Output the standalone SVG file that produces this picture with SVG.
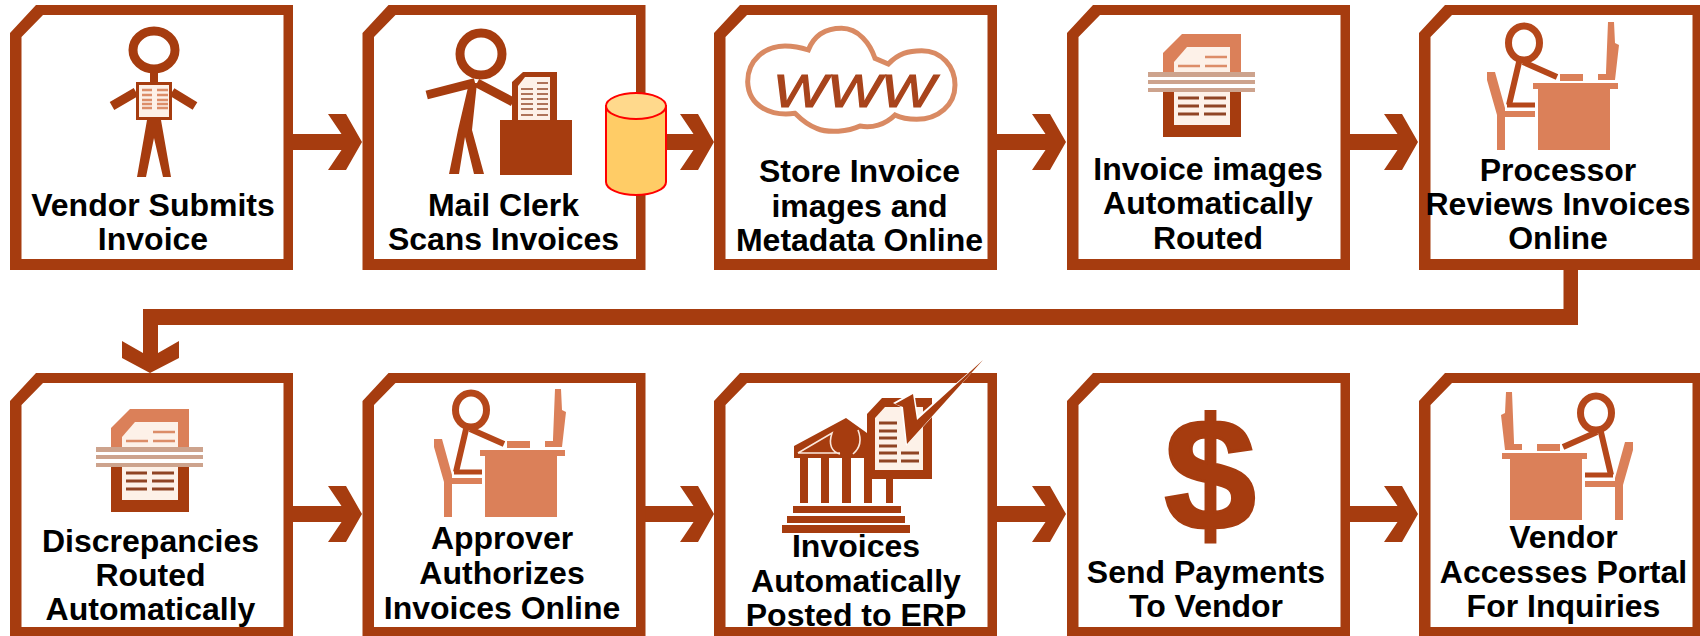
<svg xmlns="http://www.w3.org/2000/svg" xmlns:xlink="http://www.w3.org/1999/xlink" width="1700" height="636" viewBox="0 0 1700 636">
<style>
.d{fill:#a63c0f}
.l{fill:#db8059}
.c{fill:#fdf1e8}
.sd{stroke:#a63c0f;fill:none}
.sl{stroke:#db8059;fill:none}
.frame{fill:#a63c0f;fill-rule:evenodd}
text.t{font-family:"Liberation Sans",Arial,sans-serif;font-weight:700;font-size:32px;fill:#000;text-anchor:middle}
.rd{stroke:#8f4424;stroke-width:3;fill:none}
.rl{stroke:#dc8d68;stroke-width:2.5;fill:none}
.rs{stroke:#94492a;stroke-width:1.6;fill:none}
</style>
<defs>
<path id="frame" class="frame" d="M0 28L26 0H283V265H0ZM11.500 32V254H273.500V10H33Z"/>
<path id="arrow" class="d" d="M0 -8H48.500L35 -28H53L69 0L53 28H35L48.500 8H0Z"/>
<g id="desk">
<ellipse cx="1524" cy="43" rx="15.500" ry="17" fill="none" stroke="#b5471a" stroke-width="7"/>
<path d="M1520 58L1509 105M1523 62L1557 77" fill="none" stroke="#b5471a" stroke-width="6"/>
<path d="M1507 105H1535" fill="none" stroke="#b5471a" stroke-width="5"/>
<path class="l" d="M1487 72H1495L1505 108V111H1535V117H1505V150H1497V115L1487 80ZM1533 83H1618V89H1610V150H1538V89H1533ZM1560 74H1583V81H1560ZM1598 74H1606V72L1608 22H1614L1615 43L1619 45L1615 80H1598Z"/>
</g>
<g id="scan">
<path class="l" d="M1163 53L1182 34H1241V72H1163Z"/>
<path class="c" d="M1174 62L1187 47H1230V72H1174Z"/>
<path class="rl" d="M1205 57H1227M1205 66H1227M1178 66H1200"/>
<path fill="#cda38d" d="M1148 72H1255V77H1148ZM1148 80H1255V84H1148ZM1148 88H1255V92H1148Z"/>
<path class="d" d="M1163 92H1241V137H1163Z"/>
<path class="c" d="M1174 92H1230V125H1174Z"/>
<path class="rd" d="M1178 98H1199M1204 98H1226M1178 106H1199M1204 106H1226M1178 114H1199M1204 114H1226"/>
</g>
</defs>

<g id="connectors">
<use xlink:href="#arrow" href="#arrow" x="293" y="142"/>
<use xlink:href="#arrow" href="#arrow" x="645" y="142"/>
<use xlink:href="#arrow" href="#arrow" x="997" y="142"/>
<use xlink:href="#arrow" href="#arrow" x="1349" y="142"/>
<use xlink:href="#arrow" href="#arrow" x="293" y="514"/>
<use xlink:href="#arrow" href="#arrow" x="645" y="514"/>
<use xlink:href="#arrow" href="#arrow" x="997" y="514"/>
<use xlink:href="#arrow" href="#arrow" x="1349" y="514"/>
<path class="d" d="M1563.500 268H1578V325H158V353L179 341V358L150 373L122 358V341L143 353V309H1563.500Z"/>
</g>

<g id="n1">
<use xlink:href="#frame" href="#frame" x="10" y="5"/>
<ellipse cx="154" cy="50" rx="21" ry="19" class="sd" stroke-width="9"/>
<path class="d" d="M150 72H158V82H150Z"/>
<path class="sd" stroke-width="9" d="M136 92L112 106M172 92L195 106"/>
<path class="d" d="M147 120H161L171 177H163L154 138L146 177H137Z"/>
<path class="d" d="M136 82H172V120H136Z"/>
<path class="c" d="M139 85H169V117H139Z"/>
<path class="rl" d="M142 90H152M157 90H168M142 95H152M157 95H168M142 100H152M157 100H168M142 104H152M157 104H168M142 108H152M157 108H168"/>
<text class="t" x="153" y="216">Vendor Submits</text>
<text class="t" x="153" y="250">Invoice</text>
</g>

<g id="n2">
<use xlink:href="#frame" href="#frame" x="362.500" y="5"/>
<circle cx="481" cy="54" r="21" class="sd" stroke-width="9"/>
<path class="sd" stroke-width="9" d="M426.700 95L475 82.700M477 83L513 102"/>
<path class="d" d="M469 83H477L472 130L484 174H474L465 137L459 174H449L458 130Z"/>
<path class="d" d="M500 120H572V175H500ZM512 82L523 72H557V120H512Z"/>
<path class="c" d="M518 86L525 77H550V120H518Z"/>
<path class="rs" d="M537 83H548M521 89H533M537 89H548M521 94H533M537 94H548M521 99H533M537 99H548M521 104H533M537 104H548M521 109H533M537 109H548M521 115H533M537 115H548"/>
<text class="t" x="503.500" y="216">Mail Clerk</text>
<text class="t" x="503.500" y="250">Scans Invoices</text>
</g>

<g id="n3">
<use xlink:href="#frame" href="#frame" x="714" y="5"/>
<g transform="translate(735 20) scale(.33333)">
<path d="M220 90C240 40 280 25 320 25C370 25 405 70 420 115L460 132C490 100 520 92 560 92C620 92 660 140 660 195C660 255 610 298 545 298C520 298 500 295 480 285C450 315 410 325 375 318C340 335 280 340 245 325C215 315 195 295 180 280C110 290 40 260 38 185C38 120 90 78 150 78C180 78 205 85 220 90Z" fill="#fff" stroke="#d98a63" stroke-width="15"/>
</g>
<text x="773" y="107" font-family="'Liberation Sans',Arial,sans-serif" font-style="italic" font-size="47" fill="#a8441c" stroke="#a8441c" stroke-width="1.200" textLength="162" lengthAdjust="spacingAndGlyphs">WWW</text>
<text class="t" x="859.500" y="182">Store Invoice</text>
<text class="t" x="859.500" y="217">images and</text>
<text class="t" x="859.500" y="251">Metadata Online</text>
</g>

<g id="n4">
<use xlink:href="#frame" href="#frame" x="1067" y="5"/>
<use xlink:href="#scan" href="#scan"/>
<text class="t" x="1208" y="180">Invoice images</text>
<text class="t" x="1208" y="214">Automatically</text>
<text class="t" x="1208" y="249">Routed</text>
</g>

<g id="n5">
<use xlink:href="#frame" href="#frame" x="1419" y="5"/>
<use xlink:href="#desk" href="#desk"/>
<text class="t" x="1558" y="181">Processor</text>
<text class="t" x="1558" y="215">Reviews Invoices</text>
<text class="t" x="1558" y="249">Online</text>
</g>

<g id="n6">
<use xlink:href="#frame" href="#frame" x="10" y="373"/>
<use xlink:href="#scan" href="#scan" transform="translate(-1052 375)"/>
<text class="t" x="150.500" y="552">Discrepancies</text>
<text class="t" x="150.500" y="586">Routed</text>
<text class="t" x="150.500" y="620">Automatically</text>
</g>

<g id="n7">
<use xlink:href="#frame" href="#frame" x="362.500" y="373"/>
<use xlink:href="#desk" href="#desk" transform="translate(-1053 367)"/>
<text class="t" x="502" y="549">Approver</text>
<text class="t" x="502" y="584">Authorizes</text>
<text class="t" x="502" y="619">Invoices Online</text>
</g>

<g id="n8">
<use xlink:href="#frame" href="#frame" x="714" y="373"/>
<path class="d" d="M794 446L846 418L867 433V458H794ZM800 458H808V503H800ZM821 458H829V503H821ZM842 458H851V503H842ZM864 458H872V503H864ZM886 479H893V503H886ZM793 506H901V513H793ZM787 516H905V523H787ZM782 525H910V533H782Z"/>
<path d="M798 453L832 433C828 445 832 452 840 454M798 453H840M858 430C862 440 860 448 853 454" fill="none" stroke="#fbe8dd" stroke-width="1.600"/>
<path class="d" d="M867 414L882 398H932V479H867Z"/>
<path class="c" d="M875 418L885 407H923V470H875Z"/>
<path class="rd" d="M879 423H897M879 431H897M879 438H897M879 446H897M879 453H897M901 453H919M879 461H897M901 461H919"/>
<path d="M893 403L914 391L918 416L983 360L906 446L901 407Z" fill="#fff"/>
<path class="d" d="M895 404L913 394L917 420L983 360L907 444L903 407Z"/>
<text class="t" x="856" y="557">Invoices</text>
<text class="t" x="856" y="592">Automatically</text>
<text class="t" x="856" y="626">Posted to ERP</text>
</g>

<g id="n9">
<use xlink:href="#frame" href="#frame" x="1067" y="373"/>
<text transform="translate(1210 530) scale(1.03 1)" font-family="'Liberation Sans',Arial,sans-serif" font-weight="700" font-size="160" text-anchor="middle" class="d" stroke="#a63c0f" stroke-width="3">$</text>
<text class="t" x="1206" y="583">Send Payments</text>
<text class="t" x="1206" y="617">To Vendor</text>
</g>

<g id="n10">
<use xlink:href="#frame" href="#frame" x="1419" y="373"/>
<use xlink:href="#desk" href="#desk" transform="translate(3120 370) scale(-1 1)"/>
<text class="t" x="1563.500" y="548">Vendor</text>
<text class="t" x="1563.500" y="583">Accesses Portal</text>
<text class="t" x="1563.500" y="617">For Inquiries</text>
</g>

<g id="n11">
<path d="M606 106V182A30 13 0 0 0 666 182V106Z" fill="#ffcc66" stroke="#f00" stroke-width="2"/>
<ellipse cx="636" cy="106" rx="30" ry="13" fill="#ffd98c" stroke="#f00" stroke-width="2"/>
</g>
</svg>
